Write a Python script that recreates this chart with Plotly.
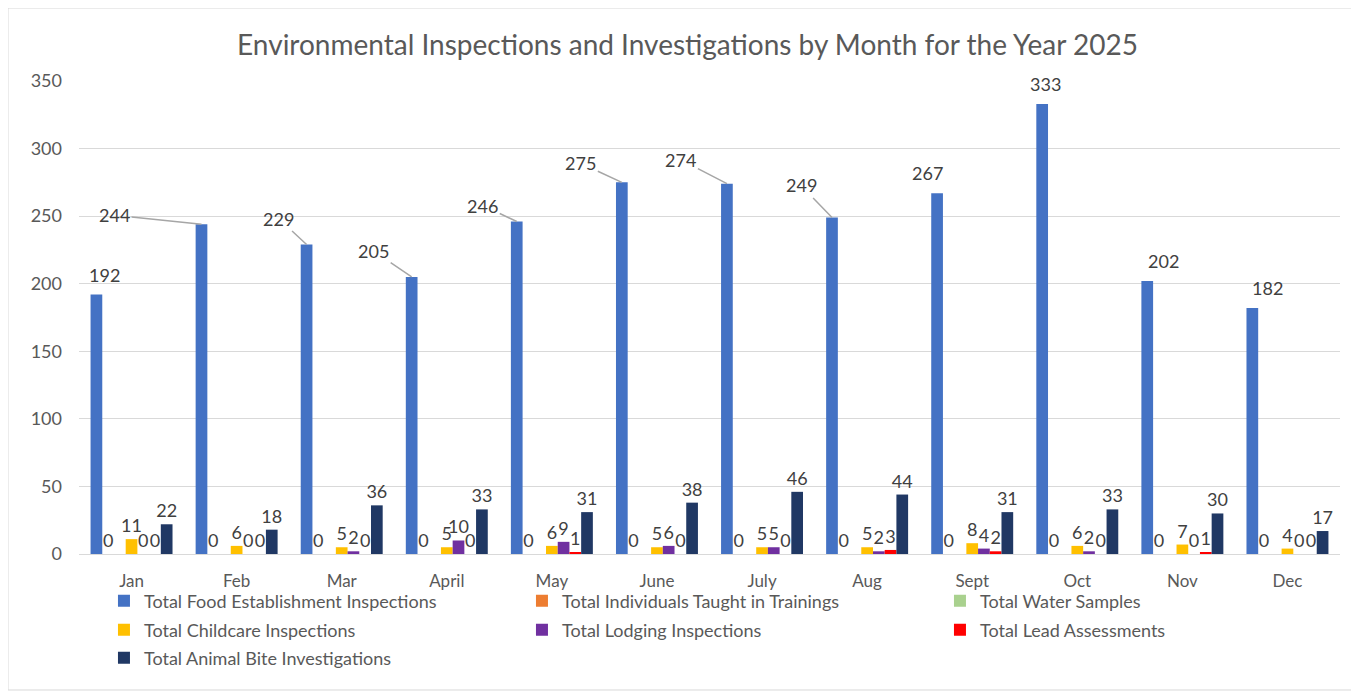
import plotly.graph_objects as go

months = ["Jan", "Feb", "Mar", "April", "May", "June", "July", "Aug", "Sept", "Oct", "Nov", "Dec"]
food = [192, 244, 229, 205, 246, 275, 274, 249, 267, 333, 202, 182]
trainings = [0, 0, 0, 0, 0, 0, 0, 0, 0, 0, 0, 0]
water = [0, 0, 0, 0, 0, 0, 0, 0, 0, 0, 0, 0]
childcare = [11, 6, 5, 5, 6, 5, 5, 5, 8, 6, 7, 4]
lodging = [0, 0, 2, 10, 9, 6, 5, 2, 4, 2, 0, 0]
lead = [0, 0, 0, 0, 1, 0, 0, 3, 2, 0, 1, 0]
animal_bite = [22, 18, 36, 33, 31, 38, 46, 44, 31, 33, 30, 17]

# label placement style for the food series (pixel offsets of label from bar top, leader line on/off)
food_label_dx = [8, -87, -28, -38, -34, -41, -46, -31, -10, 3, 16, 15]
food_label_dy = [-20, -9, -26, -26, -16, -19, -24, -32, -20, -20, -20, -20]
food_label_leader = [False, True, True, True, True, True, True, True, False, False, False, False]

series = [
    ("Total Food Establishment Inspections", food, "#4472C4", "legend", "food"),
    ("Total Individuals Taught in Trainings", trainings, "#ED7D31", "legend", "text"),
    ("Total Water Samples", water, "#A9D18E", "legend", None),
    ("Total Childcare Inspections", childcare, "#FFC000", "legend2", "text"),
    ("Total Lodging Inspections", lodging, "#7030A0", "legend2", "text"),
    ("Total Lead Assessments", lead, "#FF0000", "legend2", "text"),
    ("Total Animal Bite Investigations", animal_bite, "#203864", "legend3", "text"),
]

FONT = "Lato"
GREY = "#595959"
LABEL = "#404040"
BARGAP = 0.22
N = len(series)
H = 694

fig = go.Figure()
for name, vals, color, leg, labelmode in series:
    fig.add_trace(go.Bar(
        name=name, x=months, y=vals, legend=leg,
        marker=dict(color=color, line=dict(width=0)),
        text=[str(v) for v in vals] if labelmode == "text" else None,
        textposition="outside", constraintext="none", cliponaxis=False,
        textfont=dict(family=FONT, size=18, color=LABEL),
    ))

# food labels as annotations (Excel-style displaced labels with leader lines)
food_offset = -(N - 1) / 2 * (1 - BARGAP) / N
for i, v in enumerate(food):
    fig.add_annotation(
        x=i + food_offset, y=v, xref="x", yref="y", text=str(v),
        showarrow=True, arrowhead=0, arrowwidth=1.5,
        arrowcolor="#A6A6A6" if food_label_leader[i] else "rgba(0,0,0,0)",
        ax=food_label_dx[i], ay=food_label_dy[i], standoff=0,
        font=dict(family=FONT, size=18, color=LABEL),
    )

legend_common = dict(orientation="h", x=0.0198, xanchor="left", yanchor="middle",
                     yref="container", entrywidth=373, entrywidthmode="pixels",
                     bgcolor="rgba(0,0,0,0)", itemclick=False,
                     font=dict(family=FONT, size=18, color=GREY), traceorder="normal")

fig.update_layout(
    width=1359, height=H,
    barmode="group", bargap=BARGAP, bargroupgap=0,
    paper_bgcolor="white", plot_bgcolor="white",
    margin=dict(l=71, r=27, t=73, b=148, autoexpand=False),
    title=dict(text="Environmental Inspections and Investigations by Month for the Year 2025",
               x=0.5, xanchor="center", xref="container", y=1 - 37 / H, yanchor="middle",
               font=dict(family=FONT, size=28, color=GREY)),
    font=dict(family=FONT, color=GREY),
    legend=dict(y=1 - 593 / H, **legend_common),
    legend2=dict(y=1 - 622 / H, **legend_common),
    legend3=dict(y=1 - 650 / H, **legend_common),
    showlegend=True,
)
fig.update_yaxes(range=[0, 350], dtick=50, showgrid=True, gridcolor="#D9D9D9", gridwidth=1,
                 zeroline=False, showline=False, tickfont=dict(family=FONT, size=18, color=GREY),
                 ticks="", ticklabelstandoff=16)
fig.update_xaxes(showline=True, linecolor="#D9D9D9", linewidth=1, ticks="",
                 tickfont=dict(family=FONT, size=17, color=GREY), ticklabelstandoff=12)
fig.add_shape(type="rect", xref="paper", yref="paper",
              x0=-0.0563, x1=1.0119, y0=-0.2875, y1=1.1543,
              line=dict(color="#D9D9D9", width=1), fillcolor="rgba(0,0,0,0)", layer="below")

fig.write_html("out.html")
